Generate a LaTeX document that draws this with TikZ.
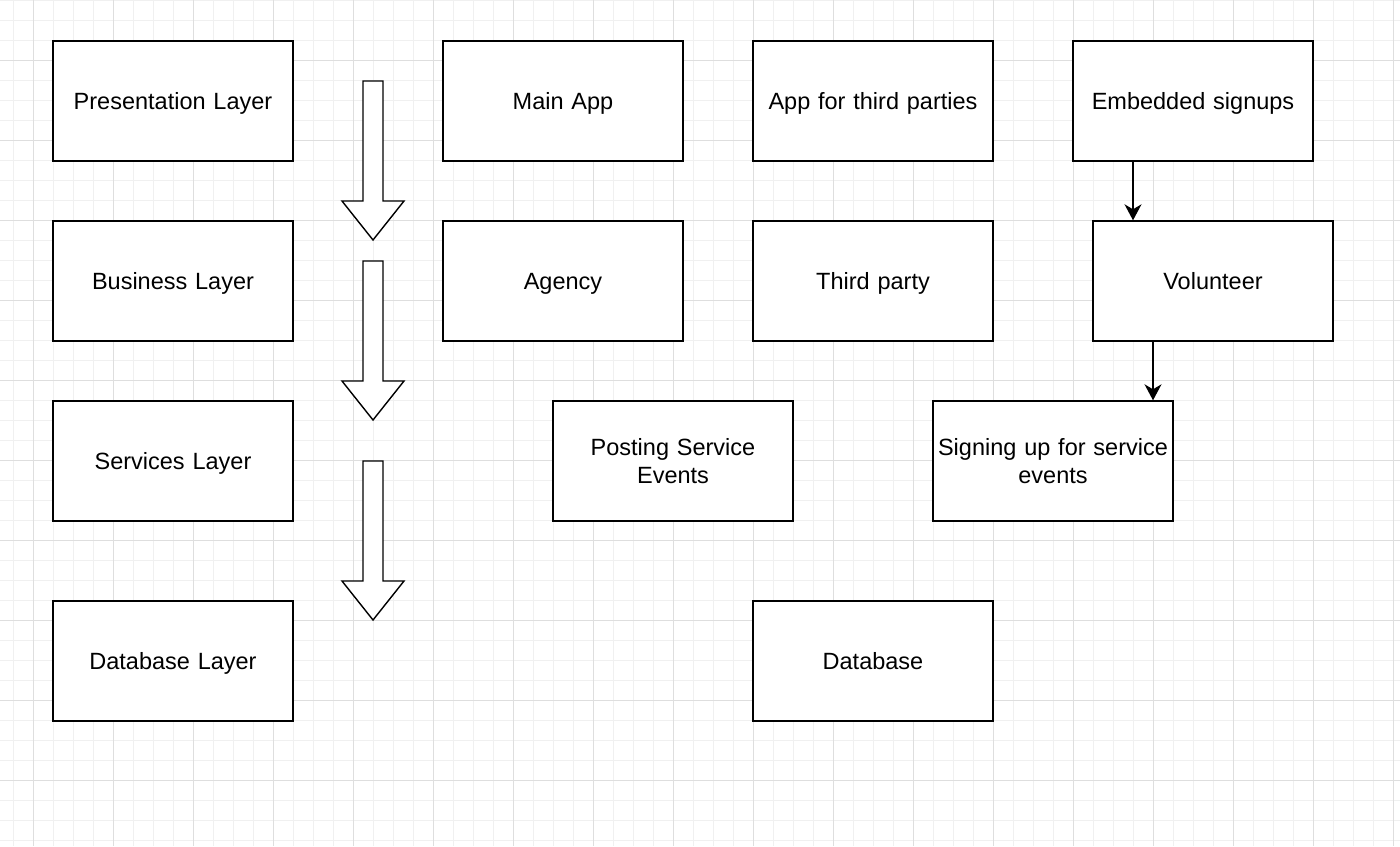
\documentclass[tikz,border=0pt]{standalone}
\usepackage{fontspec}
\setmainfont{Liberation Sans}
\usetikzlibrary{arrows.meta}
\begin{document}
\begin{tikzpicture}[x=1pt,y=-1pt,
  box/.style={draw=black,line width=1.4pt,fill=white,minimum width=240pt,minimum height=120pt,inner sep=0pt,text width=238pt,align=center,font=\fontsize{23.5}{28}\selectfont},
  oneline/.style={text height=16.5pt,text depth=0pt},
  minorgrid/.style={draw=black!6,line width=1pt},
  majorgrid/.style={draw=black!13,line width=1pt},
  blockarrow/.style={draw=black,line width=1.4pt,fill=white,line join=miter},
  link/.style={draw=black,line width=1.4pt,-{Stealth[length=16pt,width=17pt,inset=5pt]}}]
\useasboundingbox (0,0) rectangle (1400,846);
\fill[white] (0,0) rectangle (1400,846);
% grid
\foreach \i in {0,...,69} {\draw[minorgrid] (13+20*\i,0) -- (13+20*\i,846);}
\foreach \j in {0,...,42} {\draw[minorgrid] (0,20*\j) -- (1400,20*\j);}
\foreach \i in {0,...,17} {\draw[majorgrid] (33+80*\i,0) -- (33+80*\i,846);}
\foreach \j in {0,...,9} {\draw[majorgrid] (0,60+80*\j) -- (1400,60+80*\j);}
% nodes
\node[box,oneline] (pres) at (173,101) {Presentation Layer};
\node[box,oneline] (main) at (563,101) {Main App};
\node[box,oneline] (appt) at (873,101) {App for third parties};
\node[box,oneline] (emb)  at (1193,101) {Embedded signups};
\node[box,oneline] (bus)  at (173,281) {Business Layer};
\node[box,oneline] (agency) at (563,281) {Agency};
\node[box,oneline] (third) at (873,281) {Third party};
\node[box,oneline] (vol)  at (1213,281) {Volunteer};
\node[box,oneline] (serv) at (173,461) {Services Layer};
\node[box] (post) at (673,461) {Posting Service\\Events};
\node[box] (sign) at (1053,461) {Signing up for service\\events};
\node[box,oneline] (dbl)  at (173,661) {Database Layer};
\node[box,oneline] (db)   at (873,661) {Database};
% block arrows
\foreach \t in {81,261,461} {
  \draw[blockarrow] (363,\t) -- (383,\t) -- (383,\t+120) -- (404,\t+120) -- (373,\t+159) -- (342,\t+120) -- (363,\t+120) -- cycle;
}
% connectors
\draw[link] ([xshift=-60pt]emb.south) -- ([xshift=-60pt]emb.south |- vol.north);
\draw[link] ([xshift=-60pt]vol.south) -- ([xshift=-60pt]vol.south |- sign.north);
\end{tikzpicture}
\end{document}
